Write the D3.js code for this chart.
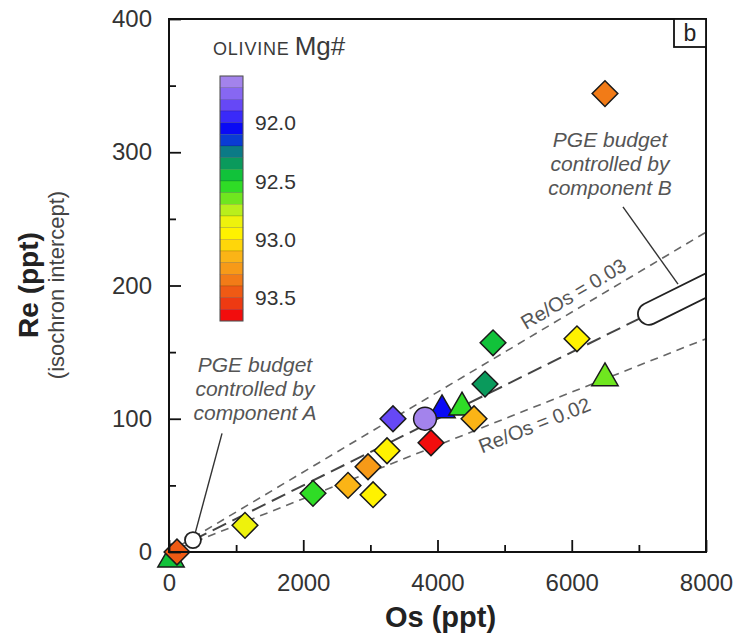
<!DOCTYPE html>
<html>
<head>
<meta charset="utf-8">
<script src="https://cdn.jsdelivr.net/npm/d3@7"></script>
<style>
  html, body { margin: 0; padding: 0; background: #fff; }
  svg { display: block; font-family: "Liberation Sans", Arial, sans-serif; }
</style>
</head>
<body>
<svg id="chart" width="736" height="641"></svg>
<script>
// Olivine-hosted samples: Os and Re (isochron intercept), ppt, with olivine Mg#
const osValues = [30, 119, 4067, 4365, 6495, 3814, 6495, 4827, 4708, 6078, 3337, 4544, 3903, 3248, 2965, 2667, 3040, 2145, 1132];
const reValues = [-4, 0, 108, 110, 132, 100, 344, 157, 126, 160, 100, 100, 82, 76, 64, 50, 43, 44, 20];
const mgValues = [92.4, 93.45, 92.05, 92.5, 92.6, 91.65, 93.35, 92.45, 92.3, 92.95, 91.85, 93.15, 93.65, 92.95, 93.25, 93.15, 92.9, 92.55, 92.85];
const shapes   = ["triangle", "diamond", "triangle", "triangle", "triangle", "circle", "diamond", "diamond", "diamond", "diamond", "diamond", "diamond", "diamond", "diamond", "diamond", "diamond", "diamond", "diamond", "diamond"];

// Colour bar: Mg# range and its discrete colour steps (top = low Mg#)
const mgDomain = [91.6, 93.7];
const mgColors = ["#a383ec", "#8767f2", "#6648f6", "#3a2af9", "#0a0af5", "#0a3cd4", "#0b7a86", "#0a9a5c",
                  "#11c23a", "#2fdc26", "#6fe61f", "#b9ef1c", "#eef20c", "#fff200", "#ffd60a", "#fbb416",
                  "#f79a18", "#f27b17", "#ef5a14", "#ee3a12", "#f20d0d"];
const mgTicks = [92.0, 92.5, 93.0, 93.5];

// Axis ticks
const xMajor = [0, 2000, 4000, 6000, 8000];
const xMinor = [1000, 3000, 5000, 7000];
const yMajor = [0, 100, 200, 300, 400];
const yMinor = [50, 150, 250, 350];

// Reference Re/Os ratios and the mixing trend between components A and B
const ratioLines = [0.03, 0.02];
const mixRatio = 0.025;
const compA = {os: 357, re: 1.5};
const compBStartOs = 7150;
const compBEndOs = 9000;

const svg = d3.select("#chart");
const pL = 169, pR = 706, pT = 19, pB = 552;

const x = d3.scaleLinear().domain([0, 8000]).range([pL, pR]);
const y = d3.scaleLinear().domain([0, 400]).range([pB, pT]);
const color = d3.scaleQuantize().domain(mgDomain).range(mgColors);

svg.append("defs").append("clipPath").attr("id", "plotClip")
  .append("rect").attr("x", pL).attr("y", pT).attr("width", pR - pL).attr("height", pB - pT);

const plot = svg.append("g").attr("clip-path", "url(#plotClip)");

// Dashed Re/Os reference lines from the origin
ratioLines.forEach(r => {
  plot.append("line")
    .attr("x1", x(0)).attr("y1", y(0))
    .attr("x2", x(8000)).attr("y2", y(8000 * r))
    .attr("stroke", "#666").attr("stroke-width", 1.6)
    .attr("stroke-dasharray", "8,6");
});

// Long-dashed mixing line between component A and component B
plot.append("line")
  .attr("x1", x(compA.os)).attr("y1", y(compA.os * mixRatio))
  .attr("x2", x(compBStartOs)).attr("y2", y(compBStartOs * mixRatio))
  .attr("stroke", "#444").attr("stroke-width", 2)
  .attr("stroke-dasharray", "15,7");

// Component B: capsule along the mixing line, running off the plot edge
const angleMix = Math.atan2(y(8000 * mixRatio) - y(0), x(8000) - x(0)) * 180 / Math.PI;
const bx = x(compBStartOs), by = y(compBStartOs * mixRatio);
const capLen = Math.hypot(x(compBEndOs) - x(compBStartOs), y(compBEndOs * mixRatio) - y(compBStartOs * mixRatio));
plot.append("rect")
  .attr("transform", `translate(${bx},${by}) rotate(${angleMix})`)
  .attr("x", -11).attr("y", -11)
  .attr("width", capLen).attr("height", 22)
  .attr("rx", 11).attr("ry", 11)
  .attr("fill", "#fff").attr("stroke", "#222").attr("stroke-width", 1.8);

// Leader lines for the annotations
const leaders = [
  {from: [790, 89], to: [357, 8]},
  {from: [6763, 259], to: [7583, 201]}
];
leaders.forEach(l => {
  svg.append("line")
    .attr("x1", x(l.from[0])).attr("y1", y(l.from[1]))
    .attr("x2", x(l.to[0])).attr("y2", y(l.to[1]))
    .attr("stroke", "#333").attr("stroke-width", 1.4);
});

// Component A: small open circle near the origin
svg.append("circle")
  .attr("cx", x(compA.os)).attr("cy", y(compA.os * mixRatio))
  .attr("r", 8)
  .attr("fill", "#fff").attr("stroke", "#222").attr("stroke-width", 1.8);

// Ratio labels set along their lines
const ratioLabels = [
  {r: 0.03, os: 6138, off: -8, text: "Re/Os = 0.03"},
  {r: 0.02, os: 5350, off: 24, text: "Re/Os = 0.02"}
];
ratioLabels.forEach(d => {
  const ang = Math.atan2(y(8000 * d.r) - y(0), x(8000) - x(0)) * 180 / Math.PI;
  svg.append("text")
    .attr("transform", `translate(${x(d.os)},${y(d.os * d.r)}) rotate(${ang})`)
    .attr("y", d.off)
    .attr("text-anchor", "middle")
    .attr("font-size", 20).attr("fill", "#555")
    .text(d.text);
});

// Annotation text blocks
const notes = [
  {os: 1281, re: 135, lines: ["PGE budget", "controlled by", "component A"]},
  {os: 6570, re: 304, lines: ["PGE budget", "controlled by", "component B"]}
];
notes.forEach(n => {
  const t = svg.append("text")
    .attr("x", x(n.os)).attr("y", y(n.re))
    .attr("text-anchor", "middle")
    .attr("font-size", 21).attr("font-style", "italic").attr("fill", "#555");
  n.lines.forEach((s, i) => {
    t.append("tspan").attr("x", x(n.os)).attr("dy", i === 0 ? 0 : 24).text(s);
  });
});

// Sample markers: triangles, then circles, then diamonds on top
const pts = osValues.map((o, i) => ({os: o, re: reValues[i], mg: mgValues[i], shape: shapes[i], i}));
const order = {triangle: 0, circle: 1, diamond: 2};
const sorted = pts.slice().sort((a, b) => order[a.shape] - order[b.shape] || a.i - b.i);
const sym = {
  triangle: d3.symbol().type(d3.symbolTriangle).size(300),
  circle: d3.symbol().type(d3.symbolCircle).size(410),
  diamond: d3.symbol().type(d3.symbolSquare).size(330)
};
svg.append("g").selectAll("path").data(sorted).join("path")
  .attr("d", d => sym[d.shape]())
  .attr("transform", d => `translate(${x(d.os)},${y(d.re) + (d.shape === "triangle" ? 2 : 0)})` + (d.shape === "diamond" ? " rotate(45)" : ""))
  .attr("fill", d => color(d.mg))
  .attr("stroke", "#1a1a1a").attr("stroke-width", 1.5);

// Frame
svg.append("rect")
  .attr("x", pL).attr("y", pT).attr("width", pR - pL).attr("height", pB - pT)
  .attr("fill", "none").attr("stroke", "#111").attr("stroke-width", 2);

// Inward ticks and tick labels
const xAxis = svg.append("g").attr("transform", `translate(0,${pB})`)
  .call(d3.axisBottom(x).tickValues(xMajor).tickSize(-12).tickPadding(22).tickFormat(d3.format("d")));
svg.append("g").attr("transform", `translate(0,${pB})`)
  .call(d3.axisBottom(x).tickValues(xMinor).tickSize(-7).tickFormat(""));
const yAxis = svg.append("g").attr("transform", `translate(${pL},0)`)
  .call(d3.axisLeft(y).tickValues(yMajor).tickSize(-12).tickPadding(17).tickFormat(d3.format("d")));
svg.append("g").attr("transform", `translate(${pL},0)`)
  .call(d3.axisLeft(y).tickValues(yMinor).tickSize(-7).tickFormat(""));
svg.selectAll(".domain").remove();
svg.selectAll(".tick line").attr("stroke", "#111").attr("stroke-width", 1.8);
svg.selectAll(".tick text").attr("font-size", 24).attr("fill", "#333")
  .attr("font-family", "'Liberation Sans', Arial, sans-serif");
xAxis.selectAll(".tick text").attr("dy", "0.72em");

// Axis titles
svg.append("text")
  .attr("x", (pL + pR) / 2 + 3).attr("y", 627)
  .attr("text-anchor", "middle").attr("font-size", 29).attr("font-weight", "bold").attr("fill", "#222")
  .text("Os (ppt)");
svg.append("text")
  .attr("transform", "translate(38,285) rotate(-90)")
  .attr("text-anchor", "middle").attr("font-size", 28).attr("font-weight", "bold").attr("fill", "#222")
  .text("Re (ppt)");
svg.append("text")
  .attr("transform", "translate(64,285) rotate(-90)")
  .attr("text-anchor", "middle").attr("font-size", 22).attr("fill", "#444")
  .text("(isochron intercept)");

// Panel letter
svg.append("rect").attr("x", 674).attr("y", pT).attr("width", pR - 674).attr("height", 28)
  .attr("fill", "#fff").attr("stroke", "#111").attr("stroke-width", 1.8);
svg.append("text").attr("x", 690).attr("y", 41).attr("text-anchor", "middle")
  .attr("font-size", 23).attr("fill", "#222").text("b");

// Colour bar for olivine Mg#
const cb = d3.scaleLinear().domain(mgDomain).range([76, 321]);
const cbX = 220, cbW = 23;
const step = (mgDomain[1] - mgDomain[0]) / mgColors.length;
svg.append("g").selectAll("rect").data(mgColors).join("rect")
  .attr("x", cbX).attr("width", cbW)
  .attr("y", (c, i) => cb(mgDomain[0] + i * step))
  .attr("height", (c, i) => cb(mgDomain[0] + (i + 1) * step) - cb(mgDomain[0] + i * step))
  .attr("fill", c => c).attr("stroke", "rgba(0,0,0,0.22)").attr("stroke-width", 0.6);
svg.append("rect").attr("x", cbX).attr("y", cb(mgDomain[0])).attr("width", cbW)
  .attr("height", cb(mgDomain[1]) - cb(mgDomain[0]))
  .attr("fill", "none").attr("stroke", "#555").attr("stroke-width", 1);
svg.append("g").selectAll("text").data(mgTicks).join("text")
  .attr("x", 255).attr("y", d => cb(d)).attr("dy", "0.36em")
  .attr("font-size", 21).attr("fill", "#333")
  .text(d => d.toFixed(1));
const cbTitle = svg.append("text").attr("x", 213).attr("y", 55).attr("fill", "#3a3a3a");
cbTitle.append("tspan").attr("font-size", 18).attr("letter-spacing", 0.8).text("OLIVINE");
cbTitle.append("tspan").attr("font-size", 26).attr("dx", 5).text("Mg#");
</script>
</body>
</html>
